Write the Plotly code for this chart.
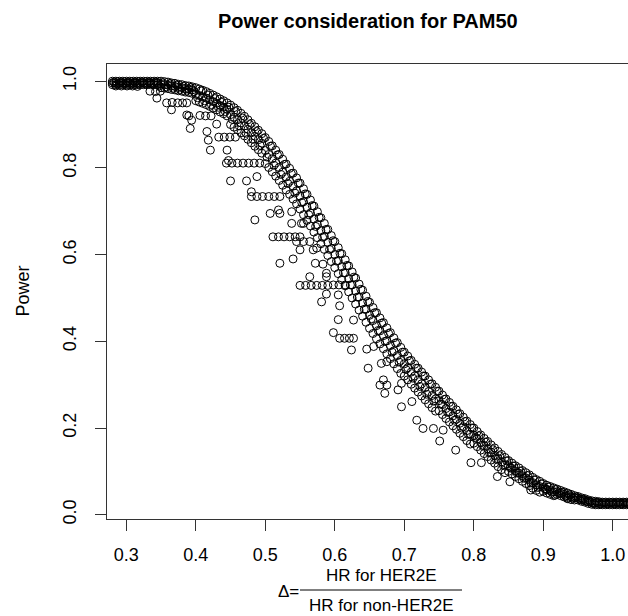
import plotly.graph_objects as go

# ---- data ----
band_x = [0.280, 0.285, 0.290, 0.295, 0.300, 0.305, 0.310, 0.315, 0.320, 0.325,
          0.330, 0.335, 0.340, 0.345, 0.350, 0.355, 0.360, 0.365, 0.370, 0.375,
          0.380, 0.385, 0.390, 0.395, 0.400, 0.405, 0.410, 0.415, 0.420, 0.425,
          0.430, 0.435, 0.440, 0.445, 0.450, 0.455, 0.460, 0.465, 0.470, 0.475,
          0.480, 0.485, 0.490, 0.495, 0.500, 0.505, 0.510, 0.515, 0.520, 0.525,
          0.530, 0.535, 0.540, 0.545, 0.550, 0.555, 0.560, 0.565, 0.570, 0.575,
          0.580, 0.585, 0.590, 0.595, 0.600, 0.605, 0.610, 0.615, 0.620, 0.625,
          0.630, 0.635, 0.640, 0.645, 0.650, 0.655, 0.660, 0.665, 0.670, 0.675,
          0.680, 0.685, 0.690, 0.695, 0.700, 0.705, 0.710, 0.715, 0.720, 0.725,
          0.730, 0.735, 0.740, 0.745, 0.750, 0.755, 0.760, 0.765, 0.770, 0.775,
          0.780, 0.785, 0.790, 0.795, 0.800, 0.805, 0.810, 0.815, 0.820, 0.825,
          0.830, 0.835, 0.840, 0.845, 0.850, 0.855, 0.860, 0.865, 0.870, 0.875,
          0.880, 0.885, 0.890, 0.895, 0.900, 0.905, 0.910, 0.915, 0.920, 0.925,
          0.930, 0.935, 0.940, 0.945, 0.950, 0.955, 0.960, 0.965, 0.970, 0.975,
          0.980, 0.985, 0.990, 0.995, 1.000, 1.005, 1.010, 1.015, 1.020, 1.025,
          1.030]

band_top = [1.000, 1.000, 1.000, 1.000, 1.000, 1.000, 1.000, 1.000, 1.000, 1.000,
            1.000, 1.000, 1.000, 1.000, 1.000, 0.999, 0.998, 0.996, 0.995, 0.993,
            0.992, 0.990, 0.989, 0.987, 0.985, 0.982, 0.979, 0.976, 0.972, 0.968,
            0.964, 0.959, 0.955, 0.950, 0.945, 0.939, 0.933, 0.926, 0.919, 0.911,
            0.903, 0.895, 0.887, 0.879, 0.870, 0.861, 0.851, 0.841, 0.831, 0.820,
            0.809, 0.799, 0.788, 0.777, 0.765, 0.752, 0.739, 0.726, 0.712, 0.699,
            0.685, 0.672, 0.658, 0.644, 0.630, 0.616, 0.602, 0.588, 0.574, 0.560,
            0.546, 0.532, 0.518, 0.504, 0.490, 0.478, 0.466, 0.454, 0.443, 0.431,
            0.420, 0.408, 0.397, 0.386, 0.375, 0.366, 0.356, 0.347, 0.338, 0.329,
            0.320, 0.311, 0.302, 0.294, 0.285, 0.276, 0.267, 0.259, 0.250, 0.242,
            0.233, 0.225, 0.216, 0.208, 0.200, 0.192, 0.184, 0.176, 0.169, 0.161,
            0.154, 0.146, 0.139, 0.132, 0.125, 0.119, 0.113, 0.108, 0.102, 0.097,
            0.092, 0.086, 0.081, 0.077, 0.072, 0.068, 0.065, 0.062, 0.059, 0.056,
            0.053, 0.050, 0.047, 0.044, 0.042, 0.039, 0.037, 0.034, 0.032, 0.031,
            0.030, 0.029, 0.029, 0.029, 0.029, 0.029, 0.029, 0.029, 0.029, 0.029,
            0.029]

band_mid = [0.996, 0.996, 0.996, 0.996, 0.996, 0.996, 0.996, 0.996, 0.996, 0.996,
            0.996, 0.996, 0.996, 0.996, 0.993, 0.992, 0.991, 0.989, 0.988, 0.986,
            0.985, 0.983, 0.982, 0.980, 0.970, 0.967, 0.964, 0.961, 0.957, 0.953,
            0.949, 0.944, 0.940, 0.935, 0.923, 0.917, 0.911, 0.904, 0.897, 0.889,
            0.881, 0.873, 0.865, 0.857, 0.840, 0.831, 0.821, 0.811, 0.801, 0.790,
            0.779, 0.769, 0.758, 0.747, 0.735, 0.722, 0.709, 0.696, 0.682, 0.669,
            0.655, 0.642, 0.628, 0.614, 0.600, 0.586, 0.572, 0.558, 0.544, 0.530,
            0.516, 0.502, 0.488, 0.474, 0.460, 0.448, 0.436, 0.424, 0.413, 0.401,
            0.390, 0.378, 0.367, 0.356, 0.348, 0.339, 0.329, 0.320, 0.311, 0.302,
            0.293, 0.284, 0.275, 0.267, 0.263, 0.254, 0.245, 0.237, 0.228, 0.220,
            0.211, 0.203, 0.194, 0.186, 0.183, 0.175, 0.167, 0.159, 0.152, 0.144,
            0.137, 0.129, 0.122, 0.115, 0.113, 0.107, 0.101, 0.096, 0.090, 0.085,
            0.080, 0.074, 0.069, 0.065, 0.063, 0.059, 0.056, 0.053, 0.053, 0.050,
            0.047, 0.044, 0.041, 0.039, 0.038, 0.035, 0.033, 0.030, 0.028, 0.027,
            0.026, 0.026, 0.026, 0.026, 0.026, 0.026, 0.026, 0.026, 0.026, 0.026,
            0.026]

band_low = [0.992, 0.992, 0.992, 0.992, 0.992, 0.992, 0.992, 0.992, 0.992, 0.992,
            0.992, 0.992, 0.992, 0.992, 0.985, 0.984, 0.983, 0.981, 0.980, 0.978,
            0.977, 0.975, 0.974, 0.972, 0.955, 0.952, 0.949, 0.946, 0.942, 0.938,
            0.934, 0.929, 0.925, 0.920, 0.900, 0.894, 0.888, 0.881, 0.874, 0.866,
            0.858, 0.850, 0.842, 0.834, 0.810, 0.801, 0.791, 0.781, 0.771, 0.760,
            0.749, 0.739, 0.728, 0.717, 0.705, 0.692, 0.679, 0.666, 0.652, 0.639,
            0.625, 0.612, 0.598, 0.584, 0.570, 0.556, 0.542, 0.528, 0.514, 0.500,
            0.486, 0.472, 0.458, 0.444, 0.430, 0.418, 0.406, 0.394, 0.383, 0.371,
            0.360, 0.348, 0.337, 0.326, 0.320, 0.311, 0.301, 0.292, 0.283, 0.274,
            0.265, 0.256, 0.247, 0.239, 0.240, 0.231, 0.222, 0.214, 0.205, 0.197,
            0.188, 0.180, 0.171, 0.163, 0.165, 0.157, 0.149, 0.141, 0.134, 0.126,
            0.119, 0.111, 0.104, 0.097, 0.100, 0.094, 0.088, 0.083, 0.077, 0.072,
            0.067, 0.061, 0.056, 0.052, 0.054, 0.050, 0.047, 0.044, 0.047, 0.044,
            0.041, 0.038, 0.035, 0.034, 0.034, 0.031, 0.029, 0.026, 0.024, 0.023,
            0.023, 0.023, 0.023, 0.023, 0.023, 0.023, 0.023, 0.023, 0.023, 0.023,
            0.023]

band2_x = [0.2825, 0.2875, 0.2925, 0.2975, 0.3025, 0.3075, 0.3125, 0.3175, 0.3225, 0.3275,
           0.3325, 0.3375, 0.3425, 0.3475, 0.3525, 0.3575, 0.3625, 0.3675, 0.3725, 0.3775,
           0.3825, 0.3875, 0.3925, 0.3975, 0.4025, 0.4075, 0.4125, 0.4175, 0.4225, 0.4275,
           0.4325, 0.4375, 0.4425, 0.4475, 0.4525, 0.4575, 0.4625, 0.4675, 0.4725, 0.4775,
           0.4825, 0.4875, 0.4925, 0.4975, 0.5025, 0.5075, 0.5125, 0.5175, 0.5225, 0.5275,
           0.5325, 0.5375, 0.5425, 0.5475, 0.5525, 0.5575, 0.5625, 0.5675, 0.5725, 0.5775,
           0.5825, 0.5875, 0.5925, 0.5975, 0.6025, 0.6075, 0.6125, 0.6175, 0.6225, 0.6275,
           0.6325, 0.6375, 0.6425, 0.6475, 0.6525, 0.6575, 0.6625, 0.6675, 0.6725, 0.6775,
           0.6825, 0.6875, 0.6925, 0.6975, 0.7025, 0.7075, 0.7125, 0.7175, 0.7225, 0.7275,
           0.7325, 0.7375, 0.7425, 0.7475, 0.7525, 0.7575, 0.7625, 0.7675, 0.7725, 0.7775,
           0.7825, 0.7875, 0.7925, 0.7975, 0.8025, 0.8075, 0.8125, 0.8175, 0.8225, 0.8275,
           0.8325, 0.8375, 0.8425, 0.8475, 0.8525, 0.8575, 0.8625, 0.8675, 0.8725, 0.8775,
           0.8825, 0.8875, 0.8925, 0.8975, 0.9025, 0.9075, 0.9125, 0.9175, 0.9225, 0.9275,
           0.9325, 0.9375, 0.9425, 0.9475, 0.9525, 0.9575, 0.9625, 0.9675, 0.9725, 0.9775,
           0.9825, 0.9875, 0.9925, 0.9975, 1.0025, 1.0075, 1.0125, 1.0175, 1.0225, 1.0275]

band2_y = [0.998, 0.994, 0.998, 0.994, 0.998, 0.994, 0.998, 0.994, 0.998, 0.994,
           0.998, 0.994, 0.998, 0.989, 0.996, 0.987, 0.994, 0.984, 0.991, 0.981,
           0.988, 0.979, 0.985, 0.976, 0.962, 0.978, 0.955, 0.968, 0.946, 0.960,
           0.940, 0.951, 0.930, 0.940, 0.912, 0.930, 0.897, 0.915, 0.880, 0.900,
           0.866, 0.884, 0.852, 0.868, 0.825, 0.850, 0.806, 0.830, 0.785, 0.808,
           0.764, 0.787, 0.742, 0.765, 0.720, 0.740, 0.692, 0.713, 0.665, 0.686,
           0.640, 0.658, 0.612, 0.632, 0.585, 0.603, 0.558, 0.575, 0.530, 0.548,
           0.502, 0.520, 0.474, 0.492, 0.452, 0.466, 0.425, 0.442, 0.400, 0.418,
           0.375, 0.396, 0.352, 0.375, 0.335, 0.355, 0.315, 0.338, 0.296, 0.320,
           0.278, 0.301, 0.262, 0.285, 0.255, 0.266, 0.236, 0.250, 0.218, 0.232,
           0.200, 0.215, 0.185, 0.200, 0.178, 0.182, 0.160, 0.167, 0.143, 0.150,
           0.128, 0.136, 0.114, 0.124, 0.108, 0.112, 0.096, 0.100, 0.084, 0.090,
           0.073, 0.080, 0.063, 0.071, 0.060, 0.064, 0.052, 0.058, 0.049, 0.052,
           0.043, 0.046, 0.038, 0.041, 0.036, 0.036, 0.031, 0.030, 0.026, 0.029,
           0.025, 0.028, 0.025, 0.028, 0.025, 0.028, 0.025, 0.028, 0.025, 0.028]

scatter_x = [0.285, 0.293, 0.301, 0.309, 0.316, 0.334, 0.342, 0.349, 0.344, 0.358,
             0.366, 0.374, 0.381, 0.387, 0.365, 0.387, 0.390, 0.394, 0.392, 0.406,
             0.414, 0.422, 0.416, 0.418, 0.421, 0.445, 0.430, 0.433, 0.441, 0.449,
             0.457, 0.447, 0.450, 0.473, 0.444, 0.452, 0.460, 0.468, 0.476, 0.484,
             0.492, 0.488, 0.485, 0.480, 0.488, 0.496, 0.505, 0.513, 0.521, 0.480,
             0.507, 0.519, 0.521, 0.538, 0.552, 0.538, 0.555, 0.521, 0.540, 0.511,
             0.519, 0.527, 0.535, 0.543, 0.550, 0.545, 0.555, 0.564, 0.550, 0.569,
             0.574, 0.572, 0.583, 0.564, 0.588, 0.550, 0.558, 0.566, 0.574, 0.582,
             0.590, 0.598, 0.606, 0.615, 0.588, 0.588, 0.581, 0.607, 0.605, 0.605,
             0.627, 0.598, 0.607, 0.614, 0.621, 0.627, 0.624, 0.646, 0.656, 0.648,
             0.667, 0.665, 0.675, 0.691, 0.672, 0.670, 0.675, 0.696, 0.696, 0.711,
             0.718, 0.727, 0.742, 0.751, 0.756, 0.774, 0.796, 0.811, 0.834, 0.852,
             0.882, 0.905, 0.917, 0.935]

scatter_y = [0.989, 0.989, 0.989, 0.989, 0.988, 0.977, 0.976, 0.977, 0.961, 0.950,
             0.951, 0.950, 0.950, 0.950, 0.934, 0.922, 0.920, 0.910, 0.891, 0.921,
             0.920, 0.920, 0.884, 0.864, 0.841, 0.841, 0.901, 0.871, 0.871, 0.871,
             0.871, 0.817, 0.770, 0.770, 0.811, 0.811, 0.811, 0.811, 0.811, 0.811,
             0.811, 0.780, 0.680, 0.734, 0.734, 0.734, 0.734, 0.734, 0.734, 0.745,
             0.695, 0.703, 0.695, 0.699, 0.672, 0.672, 0.672, 0.580, 0.590, 0.641,
             0.641, 0.641, 0.641, 0.641, 0.641, 0.630, 0.630, 0.630, 0.611, 0.611,
             0.615, 0.580, 0.578, 0.549, 0.549, 0.529, 0.529, 0.529, 0.529, 0.529,
             0.529, 0.530, 0.530, 0.530, 0.557, 0.509, 0.491, 0.482, 0.507, 0.450,
             0.449, 0.420, 0.407, 0.407, 0.407, 0.407, 0.380, 0.382, 0.388, 0.338,
             0.349, 0.299, 0.299, 0.288, 0.280, 0.311, 0.353, 0.303, 0.249, 0.261,
             0.218, 0.199, 0.199, 0.170, 0.195, 0.149, 0.120, 0.120, 0.088, 0.076,
             0.057, 0.057, 0.045, 0.037]

x_ticks = [0.3, 0.4, 0.5, 0.6, 0.7, 0.8, 0.9, 1.0]
x_ticklabels = ["0.3", "0.4", "0.5", "0.6", "0.7", "0.8", "0.9", "1.0"]
y_ticks = [0.0, 0.2, 0.4, 0.6, 0.8, 1.0]
y_ticklabels = ["0.0", "0.2", "0.4", "0.6", "0.8", "1.0"]

title_text = "Power consideration for PAM50"
y_title = "Power"
x_num = "HR for HER2E"
x_den = "HR for non-HER2E"

# ---- figure ----
FONT = "Liberation Sans, Arial, sans-serif"
W, H = 628, 616
ML, MR, MT, MB = 107, 0, 64, 97
PW, PH = W - ML - MR, H - MT - MB


def px_x(p):
    return (p - ML) / PW


def px_y(p):
    return (H - MB - p) / PH


all_x = band_x + band_x + band_x + band2_x + scatter_x
all_y = band_top + band_mid + band_low + band2_y + scatter_y

fig = go.Figure()
fig.add_trace(go.Scatter(
    x=all_x, y=all_y, mode="markers",
    marker=dict(symbol="circle-open", size=8, color="black",
                line=dict(width=1, color="black")),
    showlegend=False, hoverinfo="skip"))

axis_common = dict(showgrid=False, zeroline=False, showline=True,
                   linecolor="#333333", linewidth=1, ticks="outside",
                   ticklen=11, tickwidth=1, tickcolor="#333333",
                   tickfont=dict(family=FONT, size=18, color="black"))

fig.update_xaxes(range=[0.2722, 1.022], tickvals=x_ticks, ticktext=x_ticklabels,
                 mirror=True, ticklabelstandoff=8, **axis_common)
fig.update_yaxes(range=[-0.0099, 1.0397], tickvals=y_ticks, ticktext=y_ticklabels,
                 tickangle=-90, ticklabelstandoff=12, **axis_common)

ann_font = dict(family=FONT, size=17, color="black")
fig.add_annotation(text="<b>" + title_text + "</b>", xref="paper", yref="paper",
                   x=0.5, y=px_y(21), xanchor="center", yanchor="middle",
                   showarrow=False, font=dict(family=FONT, size=20, color="black"))
fig.add_annotation(text=y_title, xref="paper", yref="paper",
                   x=px_x(22), y=0.5, xanchor="center", yanchor="middle",
                   textangle=-90, showarrow=False,
                   font=dict(family=FONT, size=18, color="black"))
fig.add_annotation(text=x_num, xref="paper", yref="paper",
                   x=px_x(381), y=px_y(575), xanchor="center", yanchor="middle",
                   showarrow=False, font=ann_font)
fig.add_annotation(text=x_den, xref="paper", yref="paper",
                   x=px_x(381), y=px_y(605), xanchor="center", yanchor="middle",
                   showarrow=False, font=ann_font)
fig.add_annotation(text="Δ=", xref="paper", yref="paper",
                   x=px_x(301), y=px_y(591), xanchor="right", yanchor="middle",
                   showarrow=False, font=ann_font)
fig.add_shape(type="line", xref="paper", yref="paper",
              x0=px_x(300), x1=px_x(462), y0=px_y(590), y1=px_y(590),
              line=dict(color="black", width=1))

fig.update_layout(width=W, height=H, margin=dict(l=ML, r=MR, t=MT, b=MB),
                  paper_bgcolor="white", plot_bgcolor="white",
                  font=dict(family=FONT))

fig.write_html("out.html")
